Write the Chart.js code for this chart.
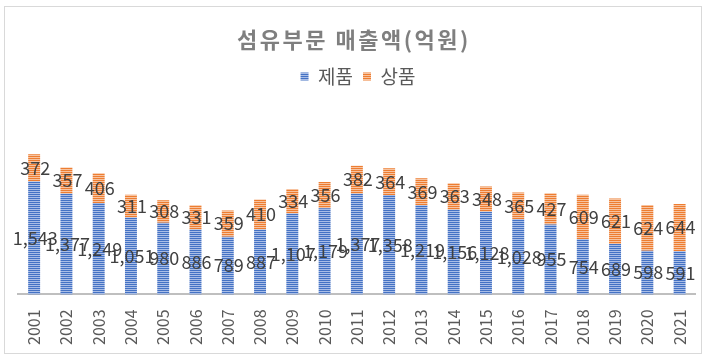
<!DOCTYPE html>
<html>
<head>
<meta charset="utf-8">
<script src="https://cdn.jsdelivr.net/npm/chart.js@4"></script>
<style>
  html, body { margin: 0; padding: 0; background: #fff; }
  #wrap { width: 706px; height: 360px; position: relative; }
</style>
</head>
<body>
<div id="wrap"><canvas id="chart"></canvas></div>
<script>
const titleText = '섬유부문 매출액(억원)';
const years = ['2001','2002','2003','2004','2005','2006','2007','2008','2009','2010','2011',
               '2012','2013','2014','2015','2016','2017','2018','2019','2020','2021'];
const productSales = [1543,1377,1249,1051,980,886,789,887,1107,1179,1377,1358,1219,1156,1128,1028,955,754,689,598,591];
const goodsSales = [372,357,406,311,308,331,359,410,334,356,382,364,369,363,348,365,427,609,621,624,644];

const FONT = "'Noto Sans CJK KR', 'Noto Sans', sans-serif";

// horizontal stripe fill like the excel pattern
function stripes(main, light) {
  const c = document.createElement('canvas');
  c.width = 4; c.height = 2;
  const g = c.getContext('2d');
  g.fillStyle = main; g.fillRect(0, 0, 4, 1);
  g.fillStyle = light; g.fillRect(0, 1, 4, 1);
  return g.createPattern(c, 'repeat');
}

const frame = {
  id: 'frame',
  beforeDraw(chart) {
    const ctx = chart.ctx;
    ctx.save();
    ctx.fillStyle = '#fff';
    ctx.fillRect(0, 0, chart.width, chart.height);
    ctx.strokeStyle = '#d9d9d9';
    ctx.lineWidth = 1;
    ctx.strokeRect(4.5, 6.5, 697, 347);
    ctx.restore();
  },
  afterDraw(chart) {
    const ctx = chart.ctx;
    ctx.save();
    ctx.font = 'bold 22px ' + FONT;
    ctx.letterSpacing = '2.5px';
    ctx.fillStyle = '#7f7f7f';
    ctx.textAlign = 'center';
    ctx.textBaseline = 'middle';
    ctx.fillText(titleText, chart.width / 2 + 1, 40);
    ctx.restore();
  }
};

const barLabels = {
  id: 'barLabels',
  afterDatasetsDraw(chart) {
    const ctx = chart.ctx;
    ctx.save();
    ctx.font = '18px ' + FONT;
    ctx.fillStyle = '#404040';
    ctx.textAlign = 'center';
    ctx.textBaseline = 'middle';
    chart.data.datasets.forEach((ds, i) => {
      chart.getDatasetMeta(i).data.forEach((bar, j) => {
        const p = bar.getProps(['x', 'y', 'base'], true);
        ctx.fillText(ds.data[j].toLocaleString('en-US'), p.x + 1, (p.y + p.base) / 2);
      });
    });
    ctx.restore();
  }
};

new Chart(document.getElementById('chart'), {
  type: 'bar',
  data: {
    labels: years,
    datasets: [
      { label: '제품', data: productSales, backgroundColor: stripes('#4472c4', '#a9bde6') },
      { label: '상품', data: goodsSales, backgroundColor: stripes('#ed7d31', '#f7c3a0') }
    ]
  },
  options: {
    responsive: true,
    maintainAspectRatio: false,
    animation: false,
    barPercentage: 0.37,
    categoryPercentage: 1,
    layout: { padding: { top: 57, left: 18, right: 8, bottom: 8 } },
    plugins: {
      title: { display: false },
      tooltip: { enabled: false },
      legend: {
        position: 'top',
        labels: {
          boxWidth: 8, boxHeight: 8,
          color: '#595959',
          font: { family: FONT, size: 19 },
          padding: 10
        }
      }
    },
    scales: {
      x: {
        stacked: true,
        grid: { display: false },
        border: { color: '#bfbfbf', width: 2 },
        ticks: {
          color: '#595959',
          font: { family: FONT, size: 16 },
          minRotation: 90, maxRotation: 90,
          padding: 7
        }
      },
      y: {
        stacked: true,
        display: false,
        min: 0,
        max: 2710
      }
    }
  },
  plugins: [frame, barLabels]
});
</script>
</body>
</html>
